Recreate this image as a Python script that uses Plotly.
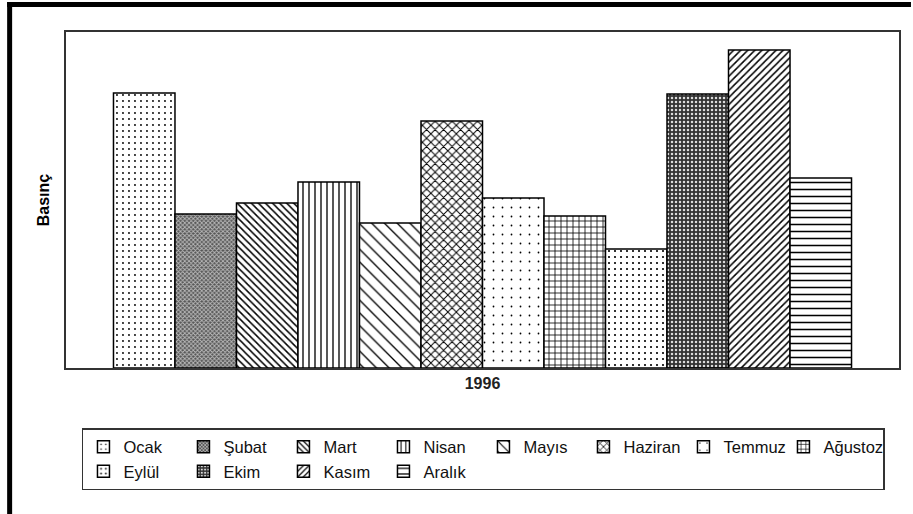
import plotly.graph_objects as go

# aylar ve basınç değerleri (göreli)
aylar = ['Ocak', 'Şubat', 'Mart', 'Nisan', 'Mayıs', 'Haziran',
         'Temmuz', 'Ağustoz', 'Eylül', 'Ekim', 'Kasım', 'Aralık']
basinc = [275, 154, 165, 186, 145, 247, 170, 152, 119, 274, 318, 190]
yil = ['1996']

# desenler: (şekil, boyut, doluluk, ön renk, arka renk)
desenler = [
    ('.', 6, 0.08, 'black', 'white'),
    ('x', 3, 0.5, '#bbbbbb', '#555555'),
    ('\\', 5, 0.3, 'black', 'white'),
    ('|', 6, 0.22, 'black', 'white'),
    ('\\', 9, 0.15, 'black', 'white'),
    ('x', 6, 0.3, 'black', 'white'),
    ('.', 9, 0.03, 'black', 'white'),
    ('+', 6, 0.25, 'black', 'white'),
    ('.', 6, 0.1, 'black', 'white'),
    ('.', 4, 0.3, '#dddddd', '#333333'),
    ('/', 5, 0.3, 'black', 'white'),
    ('-', 7, 0.22, 'black', 'white'),
]

font = 'Liberation Sans, Arial, sans-serif'

fig = go.Figure()
for ay, deger, (sekil, boyut, dolu, on, arka) in zip(aylar, basinc, desenler):
    fig.add_trace(go.Bar(
        x=yil, y=[deger], name=ay,
        marker=dict(color=arka,
                    line=dict(color='black', width=1.5),
                    pattern=dict(shape=sekil, size=boyut, solidity=dolu,
                                 fgcolor=on, bgcolor=arka, fillmode='replace')),
    ))

W, H = 913, 514
L, R, T, B = 66, 12, 32, 146
pw, ph = W - L - R, H - T - B

def px(x):
    return (x - L) / pw

def py(y):
    return (H - B - y) / ph

fig.update_layout(
    width=W, height=H,
    margin=dict(l=L, r=R, t=T, b=B),
    barmode='group', bargap=0.114, bargroupgap=0,
    plot_bgcolor='white', paper_bgcolor='white',
    font=dict(family=font, color='black'),
    showlegend=True,
    xaxis=dict(showline=True, mirror=True, linecolor='#333', linewidth=2,
               ticks='', showgrid=False,
               tickfont=dict(size=16, weight='bold', family=font, color='#222')),
    yaxis=dict(showline=True, mirror=True, linecolor='#333', linewidth=2,
               range=[0, 336], showticklabels=False, ticks='', showgrid=False,
               zeroline=False,
               title=dict(text='Basınç', standoff=10,
                          font=dict(size=16, weight='bold', family=font))),
    legend=dict(orientation='h', x=px(82), xanchor='left', y=py(428), yanchor='top',
                entrywidth=55, entrywidthmode='pixels',
                bordercolor='#333', borderwidth=1.5, bgcolor='white',
                font=dict(size=16.5, family=font, color='#111'),
                traceorder='normal'),
    shapes=[
        # kalın siyah çerçeve (üst ve sol)
        dict(type='rect', xref='paper', yref='paper', x0=px(7), x1=px(W), y0=py(7), y1=py(2),
             fillcolor='black', line=dict(width=0)),
        dict(type='rect', xref='paper', yref='paper', x0=px(7), x1=px(12), y0=py(H), y1=py(2),
             fillcolor='black', line=dict(width=0)),
    ],
)

# sayfa kenar boşluğunu kaldır
fig.write_html('out.html', config={'displayModeBar': False},
               post_script="document.body.style.margin='0';")
